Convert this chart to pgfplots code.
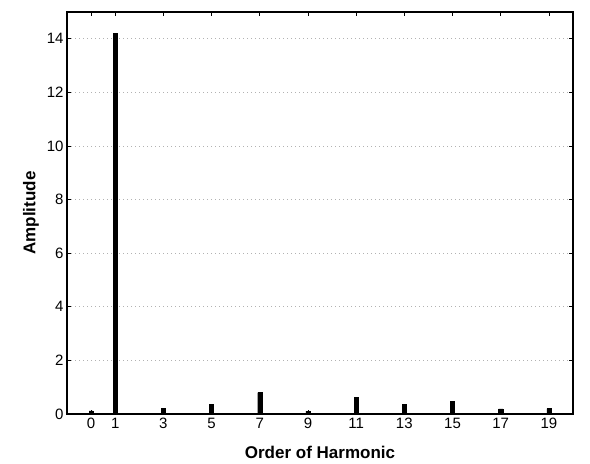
\documentclass[border=0pt]{standalone}
\usepackage{pgfplots}
\pgfplotsset{compat=1.18}
\usepackage{fontspec}
\setmainfont{Liberation Sans}
\begin{document}
\begin{tikzpicture}
\begin{axis}[
  scale only axis,
  width=506bp, height=402bp,
  xmin=-1, xmax=20, ymin=0, ymax=15,
  xtick={0,1,3,5,7,9,11,13,15,17,19},
  ytick={0,2,4,6,8,10,12,14},
  tick align=inside,
  major tick length=4bp,
  tick style={black, line width=0.8bp},
  axis line style={line width=1.2bp},
  ymajorgrids,
  grid style={dash pattern=on 1bp off 3bp, gray!60, line width=0.6bp},
  /pgf/number format/assume math mode=true,
  tick label style={font=\fontsize{15bp}{17bp}\selectfont},
  xticklabel style={yshift=-1bp},
  xlabel={\textbf{Order of Harmonic}},
  ylabel={\textbf{Amplitude}},
  label style={font=\fontsize{17bp}{19bp}\selectfont},
  xlabel style={at={(axis description cs:0.5,0)}, anchor=center, yshift=-38bp},
  ylabel style={at={(axis description cs:0,0.5)}, anchor=center, yshift=36bp},
]
\addplot[ybar, bar width=0.17, fill=black, draw=black] coordinates {
  (0,0.12) (1,14.2) (3,0.2) (5,0.35) (7,0.8) (9,0.11)
  (11,0.61) (13,0.35) (15,0.47) (17,0.19) (19,0.2)
};
\end{axis}
\path[use as bounding box] (current axis.south west) ++(-67bp,-50bp) rectangle ++(590bp,464bp);
\end{tikzpicture}
\end{document}
